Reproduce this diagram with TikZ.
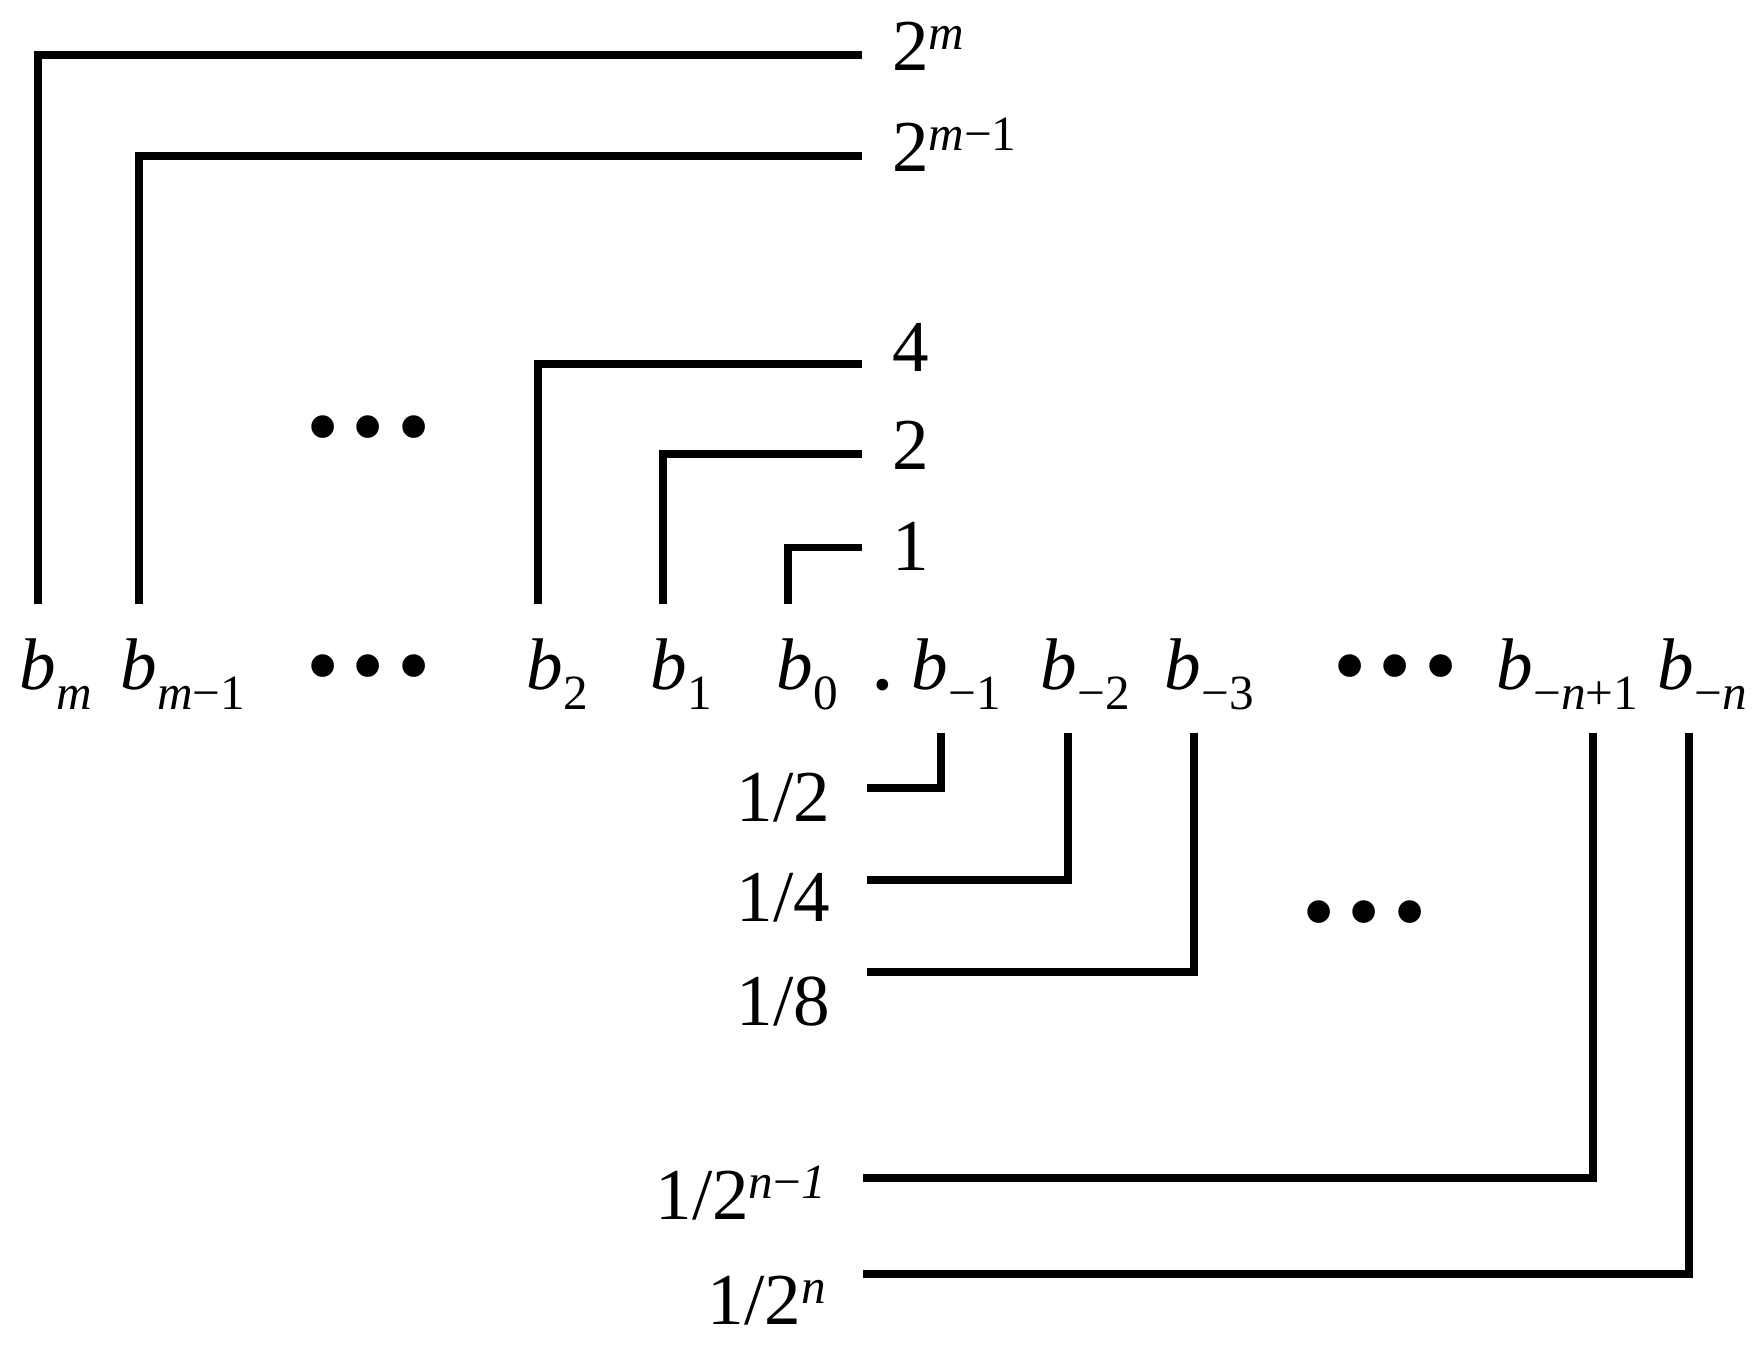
\documentclass[tikz,border=0pt]{standalone}
\usepackage{fontspec}
\setmainfont{Liberation Serif}

\newcommand{\sbs}[1]{\raisebox{-0.19cm}{\fontsize{14pt}{14pt}\selectfont #1}}
\newcommand{\sps}[1]{\raisebox{0.21cm}{\fontsize{14pt}{14pt}\selectfont #1}}
\newcommand{\bitlabel}[1]{\textit{b}\rlap{\sbs{#1}}}
\newcommand{\bdots}{{\fontsize{27pt}{30pt}\selectfont\textbullet\hspace{0.12cm}\textbullet\hspace{0.12cm}\textbullet}}

\tikzset{
  bitnode/.style={inner sep=0pt, anchor=base west, text height=0.85cm, text depth=0.42cm},
  wgt/.style={inner sep=0pt, outer xsep=0.3cm, anchor=base west, text height=0.32cm, text depth=0cm},
  frac/.style={inner sep=0pt, outer xsep=0.37cm, anchor=base east, text height=0.84cm, text depth=0cm},
  dotsnode/.style={inner sep=0pt, anchor=base west},
  wire/.style={line width=2.1pt},
}

\begin{document}
\begin{tikzpicture}[x=0.01cm, y=-0.01cm, font=\fontsize{20.8pt}{25pt}\selectfont]
		\useasboundingbox (0,0) rectangle (1762,1352);
		% Bits of the number
		\node[bitnode] (bm)   at (19,690)   {\bitlabel{\textit{m}}};
		\node[bitnode] (bm1)  at (120,690)  {\bitlabel{\textit{m}−1}};
		\node[dotsnode] (dl)  at (306,698)  {\bdots};
		\node[bitnode] (b2)   at (526,690)  {\bitlabel{2}};
		\node[bitnode] (b1)   at (650,690)  {\bitlabel{1}};
		\node[bitnode] (b0)   at (776,690)  {\bitlabel{0}};
		\node[dotsnode, font=\fontsize{28pt}{30pt}\selectfont] (pt) at (870,690) {.};
		\node[bitnode] (bn1)  at (911,690)  {\bitlabel{−1}};
		\node[bitnode] (bn2)  at (1040,690) {\bitlabel{−2}};
		\node[bitnode] (bn3)  at (1164,690) {\bitlabel{−3}};
		\node[dotsnode] (dr)  at (1333,698) {\bdots};
		\node[bitnode] (bnn1) at (1496,690) {\bitlabel{−\textit{n}+1}};
		\node[bitnode] (bnn)  at (1657,690) {\bitlabel{−\textit{n}}};
		% Weights of the integer part
		\node[wgt] (wm)  at (862,71)  {2\sps{\textit{m}}};
		\node[wgt] (wm1) at (862,172) {2\sps{\textit{m}−1}};
		\node[dotsnode] (du) at (306,459) {\bdots};
		\node[wgt] (w4)  at (862,372) {4};
		\node[wgt] (w2)  at (862,470) {2};
		\node[wgt] (w1)  at (862,571) {1};
		% Weights of the fraction part
		\node[frac] (h1)  at (867,822)  {1/2};
		\node[frac] (h2)  at (867,922)  {1/4};
		\node[frac] (h3)  at (867,1026) {1/8};
		\node[dotsnode] (dd) at (1302,944) {\bdots};
		\node[frac] (hn1) at (863,1220) {1/2\sps{\textit{n}−\textit{1}}};
		\node[frac] (hn)  at (863,1325) {1/2\sps{\textit{n}}};
		% Connect bits to weights
		\draw[wire] (bm.north) |- (wm.west);
		\draw[wire] (bm1.north) |- (wm1.west);
		\draw[wire] ([xshift=-0.07cm]b2.north) |- ([yshift=-0.08cm]w4.west);
		\draw[wire] ([xshift=-0.06cm]b1.north) |- (w2.west);
		\draw[wire] ([xshift=-0.07cm]b0.north) |- ([yshift=0.075cm]w1.west);
		\draw[wire] ([xshift=0.11cm]bn1.south) |- ([yshift=-0.08cm]h1.east);
		\draw[wire] ([xshift=0.09cm]bn2.south) |- (h2.east);
		\draw[wire] ([xshift=0.11cm]bn3.south) |- ([yshift=0.12cm]h3.east);
		\draw[wire] ([xshift=0.78cm]bnn1.south) |- (hn1.east);
		\draw[wire] ([xshift=0.13cm]bnn.south) |- ([yshift=0.09cm]hn.east);
	\end{tikzpicture}
\end{document}
